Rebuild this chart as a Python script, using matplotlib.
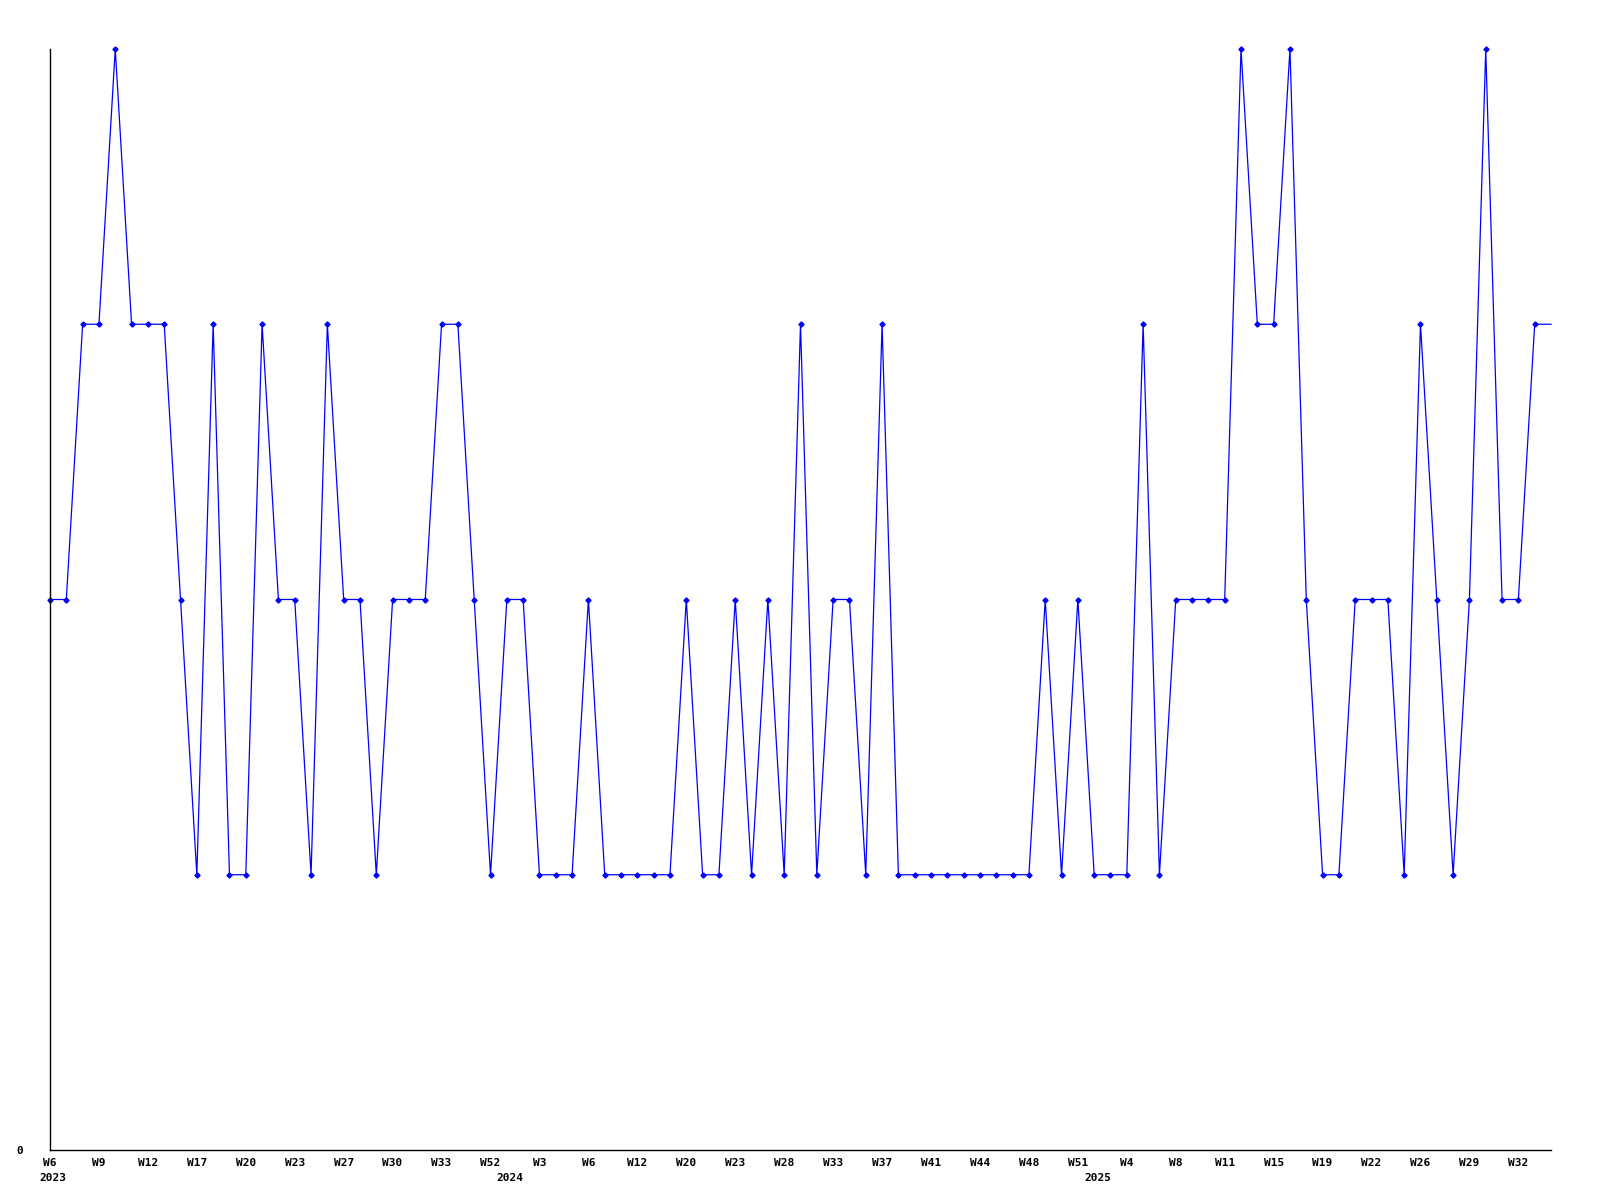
import matplotlib
matplotlib.use("Agg")
import matplotlib.pyplot as plt
import matplotlib.transforms as mtransforms

#--------data begin--------
values = [2, 2, 3, 3, 4, 3, 3, 3, 2, 1,
          3, 1, 1, 3, 2, 2, 1, 3, 2, 2,
          1, 2, 2, 2, 3, 3, 2, 1, 2, 2,
          1, 1, 1, 2, 1, 1, 1, 1, 1, 2,
          1, 1, 2, 1, 2, 1, 3, 1, 2, 2,
          1, 3, 1, 1, 1, 1, 1, 1, 1, 1,
          1, 2, 1, 2, 1, 1, 1, 3, 1, 2,
          2, 2, 2, 4, 3, 3, 4, 2, 1, 1,
          2, 2, 2, 1, 3, 2, 1, 2, 4, 2,
          2, 3, 3]
week_labels = ["W6", "W9", "W12", "W17", "W20", "W23", "W27", "W30", "W33",
               "W52", "W3", "W6", "W12", "W20", "W23", "W28", "W33", "W37",
               "W41", "W44", "W48", "W51", "W4", "W8", "W11", "W15", "W19",
               "W22", "W26", "W29", "W32"]
label_step = 3
years = ["2023", "2024", "2025"]
year_index = [0, 28, 64]
#--------data end--------

fig = plt.figure(figsize=(16, 12), dpi=100)
ax = fig.add_axes([50 / 1600, 1 - 1150 / 1200, 1501 / 1600, 1101 / 1200])

x = list(range(len(values)))
ax.plot(x, values, color="#0000ff", lw=0.9, marker="D", ms=2.6,
        markevery=list(range(len(values) - 1)), clip_on=False)

ax.set_xlim(0, len(values) - 1)
ax.set_ylim(0, 4)

for side in ("top", "right"):
  ax.spines[side].set_visible(False)
for side in ("left", "bottom"):
  ax.spines[side].set_linewidth(1.0)
  ax.spines[side].set_color("black")

font = dict(family="DejaVu Sans Mono", weight="bold", size=8)

ax.set_xticks(range(0, len(week_labels) * label_step, label_step))
ax.set_xticklabels(week_labels, **font)
ax.set_yticks([0])
ax.set_yticklabels(["0"], **font)
ax.tick_params(axis="x", length=0, pad=6)
ax.tick_params(axis="y", length=0, pad=19)

trans = mtransforms.blended_transform_factory(ax.transData, ax.transAxes)
for year, idx in zip(years, year_index):
  ax.text(idx + 0.2, -0.0255, year, transform=trans, ha="center", va="center", **font)

fig.savefig("out.png", dpi=100)
